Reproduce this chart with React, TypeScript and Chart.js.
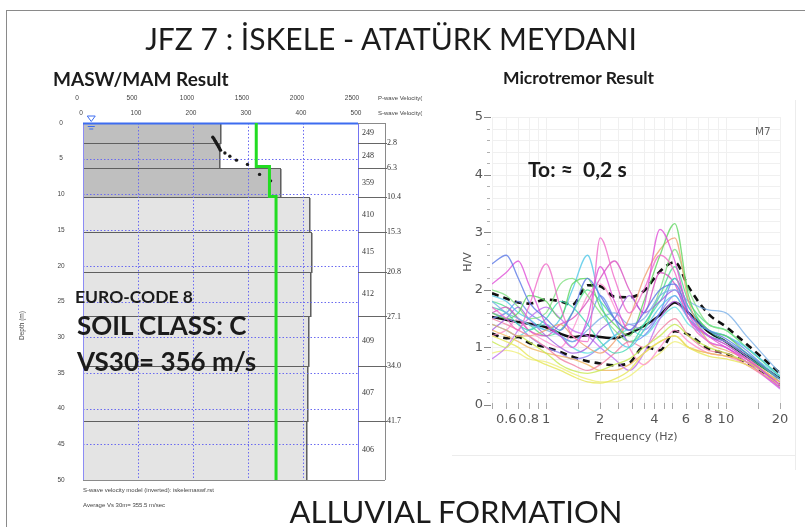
import React, { useEffect, useRef } from "react";
import { Chart, registerables } from "chart.js";

Chart.register(...registerables);

// ---- MASW / MAM layered shear-wave model ----
const LAYER_TOP = [0, 2.8, 6.3, 10.4, 15.3, 20.8, 27.1, 34.0, 41.7];
const LAYER_BOTTOM = [2.8, 6.3, 10.4, 15.3, 20.8, 27.1, 34.0, 41.7, 50];
const LAYER_VS = [249, 248, 359, 410, 415, 412, 409, 407, 406];
const BOUNDARY_LABELS = ["2.8", "6.3", "10.4", "15.3", "20.8", "27.1", "34.0", "41.7"];
const DEPTH_TICKS = [0, 5, 10, 15, 20, 25, 30, 35, 40, 45, 50];
const VS_TICKS = [0, 100, 200, 300, 400, 500];
const VP_TICKS = [0, 500, 1000, 1500, 2000, 2500];

// initial (starting) model, green step profile
const INIT_DEPTH = [0, 6.1, 6.1, 10.3, 10.3, 50];
const INIT_VS = [315, 315, 339, 339, 351, 351];

// dispersion picks plotted against pseudo-depth
const PICK_DEPTH = [2.0, 2.2, 2.4, 2.6, 2.8, 3.0, 3.2, 3.4, 3.6, 3.8, 4.2, 4.65, 5.2, 5.8, 7.2, 8.1];
const PICK_VS = [236, 238, 239.5, 241, 242.5, 244, 245.5, 247, 248.5, 250, 258, 267, 279, 299, 321, 341];

// ---- Microtremor H/V ----
const FREQ = [0.5, 0.6, 0.7, 0.8, 1.0, 1.2, 1.4, 1.7, 2.0, 2.4, 2.9, 3.5, 4.3, 5.2, 6.2, 8, 10, 13, 20];
const HV_MEAN = [1.53, 1.48, 1.44, 1.41, 1.35, 1.24, 1.18, 1.21, 1.18, 1.16, 1.24, 1.37, 1.56, 1.78, 1.6, 1.27, 1.1, 0.85, 0.46];
const HV_UPPER = [1.94, 1.85, 1.78, 1.76, 1.83, 1.8, 1.74, 2.08, 2.06, 1.88, 1.87, 1.98, 2.32, 2.48, 2.05, 1.58, 1.36, 1.06, 0.55];
const HV_LOWER = [1.24, 1.16, 1.18, 1.08, 1.0, 0.92, 0.84, 0.76, 0.72, 0.69, 0.73, 1.01, 0.95, 1.28, 1.22, 0.98, 0.89, 0.74, 0.35];

const WINDOW_COLORS = [
  "rgba(90,120,230,0.8)", "rgba(224,79,216,0.8)", "rgba(240,106,200,0.8)", "rgba(94,214,94,0.8)",
  "rgba(240,160,112,0.8)", "rgba(232,232,96,0.85)", "rgba(80,200,232,0.8)", "rgba(122,176,232,0.8)",
  "rgba(160,96,224,0.8)", "rgba(200,232,80,0.8)", "rgba(64,216,176,0.8)", "rgba(240,128,160,0.8)",
  "rgba(192,112,240,0.8)", "rgba(128,224,128,0.8)", "rgba(216,80,192,0.8)", "rgba(106,138,240,0.8)",
  "rgba(240,184,96,0.8)", "rgba(96,224,224,0.8)", "rgba(255,144,208,0.8)", "rgba(240,240,128,0.85)",
  "rgba(80,224,144,0.8)", "rgba(144,128,240,0.8)",
];
const WINDOW_HV = [
  [2.45, 2.6, 2.2, 1.8, 1.5, 1.3, 1.6, 2.2, 1.9, 1.5, 1.3, 1.6, 2.0, 2.1, 1.6, 1.3, 1.15, 0.9, 0.45],
  [2.1, 2.3, 2.5, 2.1, 1.4, 1.2, 1.0, 1.5, 2.4, 1.8, 1.3, 1.7, 3.05, 2.5, 1.6, 1.2, 1.0, 0.8, 0.35],
  [1.7, 1.5, 1.3, 1.7, 2.45, 1.7, 1.2, 1.1, 2.9, 2.2, 1.6, 2.0, 2.6, 2.3, 1.5, 1.1, 1.0, 0.75, 0.3],
  [1.6, 1.5, 1.6, 1.9, 1.8, 1.5, 2.1, 2.2, 1.7, 1.4, 1.2, 1.8, 2.6, 3.15, 1.9, 1.3, 1.2, 0.9, 0.45],
  [1.4, 1.3, 1.2, 1.2, 1.3, 1.4, 1.2, 1.0, 0.9, 1.1, 1.5, 2.2, 2.7, 2.9, 1.8, 1.1, 0.95, 0.8, 0.4],
  [1.2, 1.1, 1.0, 0.85, 0.7, 0.6, 0.5, 0.4, 0.38, 0.45, 0.6, 0.9, 1.1, 1.2, 1.0, 0.85, 0.8, 0.7, 0.35],
  [1.9, 1.8, 1.6, 1.5, 1.3, 1.5, 2.0, 2.6, 1.8, 1.2, 1.0, 1.3, 1.7, 1.9, 1.5, 1.3, 1.2, 1.0, 0.5],
  [1.8, 1.6, 1.5, 1.4, 1.3, 1.2, 1.1, 1.3, 1.5, 1.6, 1.4, 1.5, 1.9, 2.0, 1.8, 1.65, 1.6, 1.2, 0.55],
  [1.3, 1.5, 1.7, 1.5, 1.2, 1.0, 0.9, 1.0, 1.3, 1.5, 1.9, 1.6, 1.8, 2.0, 1.6, 1.2, 1.1, 0.85, 0.3],
  [1.1, 1.0, 1.2, 1.1, 0.9, 0.7, 0.6, 0.55, 0.6, 0.7, 0.8, 1.0, 1.2, 1.4, 1.2, 1.0, 0.9, 0.75, 0.4],
  [1.7, 1.6, 1.4, 1.3, 1.5, 1.8, 1.7, 1.4, 1.1, 0.9, 1.0, 1.4, 1.8, 2.2, 1.7, 1.3, 1.1, 0.85, 0.45],
  [1.5, 1.4, 1.3, 1.2, 1.0, 0.8, 0.7, 0.6, 0.7, 0.9, 1.1, 1.0, 1.3, 1.5, 1.2, 0.95, 0.9, 0.7, 0.35],
  [0.8, 1.0, 1.3, 1.5, 1.7, 1.5, 1.3, 1.2, 1.0, 0.8, 0.6, 0.9, 1.5, 1.8, 1.5, 1.1, 1.0, 0.75, 0.28],
  [2.0, 1.9, 1.7, 1.5, 1.6, 2.1, 2.2, 1.9, 1.6, 1.3, 1.1, 1.3, 2.0, 2.7, 2.0, 1.4, 1.3, 1.0, 0.5],
  [1.6, 1.7, 1.5, 1.3, 1.2, 1.4, 1.5, 1.8, 2.2, 2.5, 2.0, 1.6, 2.3, 2.1, 1.5, 1.2, 1.05, 0.8, 0.35],
  [1.5, 1.6, 1.8, 1.6, 1.4, 1.2, 1.1, 1.4, 1.9, 1.5, 1.1, 1.2, 1.6, 2.2, 1.7, 1.3, 1.2, 0.95, 0.4],
  [1.3, 1.2, 1.1, 1.0, 0.9, 0.85, 0.8, 0.7, 0.6, 0.6, 0.7, 0.9, 1.1, 1.2, 1.0, 0.9, 0.85, 0.75, 0.4],
  [1.4, 1.3, 1.2, 1.3, 1.4, 1.2, 1.0, 0.9, 1.0, 1.2, 1.3, 1.2, 1.5, 1.7, 1.4, 1.2, 1.1, 0.9, 0.5],
  [1.2, 1.3, 1.5, 1.3, 1.1, 1.0, 1.3, 1.9, 2.1, 1.7, 1.0, 0.7, 1.0, 1.3, 1.1, 0.9, 0.85, 0.7, 0.3],
  [0.9, 0.95, 0.9, 0.8, 0.75, 0.65, 0.55, 0.45, 0.4, 0.4, 0.5, 0.7, 0.9, 1.1, 1.0, 0.9, 0.85, 0.75, 0.4],
  [1.8, 1.7, 1.5, 1.4, 1.2, 1.3, 1.6, 2.0, 1.8, 1.5, 1.3, 1.4, 1.9, 2.4, 1.8, 1.4, 1.3, 1.0, 0.5],
  [1.6, 1.5, 1.4, 1.2, 1.0, 0.9, 0.8, 0.85, 1.0, 1.2, 1.4, 1.3, 1.6, 1.9, 1.5, 1.2, 1.05, 0.8, 0.35],
];
const F_TICKS = [0.5, 0.6, 0.7, 0.8, 0.9, 1, 1.5, 2, 2.5, 3, 3.5, 4, 4.5, 5, 6, 7, 8, 9, 10, 15, 20];
const F_LABELS = [0.6, 0.8, 1, 2, 4, 6, 8, 10, 20];
const HV_TICKS = [0, 1, 2, 3, 4, 5];

function hline(ctx: CanvasRenderingContext2D, x0: number, x1: number, y: number) {
  ctx.beginPath();
  ctx.moveTo(x0, y);
  ctx.lineTo(x1, y);
  ctx.stroke();
}
function vline(ctx: CanvasRenderingContext2D, x: number, y0: number, y1: number) {
  ctx.beginPath();
  ctx.moveTo(x, y0);
  ctx.lineTo(x, y1);
  ctx.stroke();
}

const profilePlugin = {
  id: "profileFrame",
  beforeDatasetsDraw(chart: any) {
    const { ctx, chartArea: a, scales } = chart;
    const x = scales.x;
    const y = scales.y;
    ctx.save();
    // layers
    LAYER_VS.forEach((vs, i) => {
      const x0 = Math.round(x.getPixelForValue(0));
      const x1 = Math.round(x.getPixelForValue(vs));
      const y0 = Math.round(y.getPixelForValue(LAYER_TOP[i]));
      const y1 = Math.round(y.getPixelForValue(LAYER_BOTTOM[i]));
      ctx.fillStyle = "#a9a9a9";
      ctx.fillRect(x1, y0 + 1, 2, y1 - y0);
      ctx.fillStyle = i < 3 ? "#bfbfbf" : "#e4e4e4";
      ctx.fillRect(x0, y0, x1 - x0, y1 - y0);
      ctx.strokeStyle = "#5f5f5f";
      ctx.lineWidth = 1;
      ctx.strokeRect(x0 + 0.5, y0 + 0.5, x1 - x0, y1 - y0);
    });
    // dotted grid
    ctx.strokeStyle = "#6a6af0";
    ctx.lineWidth = 1;
    ctx.setLineDash([1.5, 2]);
    VS_TICKS.slice(1, -1).forEach((v) => {
      const px = Math.round(x.getPixelForValue(v)) + 0.5;
      vline(ctx, px, a.top, a.bottom);
    });
    DEPTH_TICKS.slice(1, -1).forEach((d) => {
      const py = Math.round(y.getPixelForValue(d)) + 0.5;
      hline(ctx, a.left, a.right, py);
    });
    ctx.setLineDash([]);
    // frame
    const ax = a.right + 27;
    ctx.strokeStyle = "#8c8cf5";
    vline(ctx, Math.round(a.left) + 0.5, a.top, a.bottom);
    ctx.strokeStyle = "#7474f2";
    vline(ctx, Math.round(a.right) + 0.5, a.top, a.bottom);
    ctx.strokeStyle = "#8a8a8a";
    hline(ctx, a.left, ax, Math.round(a.bottom) + 0.5);
    hline(ctx, a.right, ax, Math.round(a.top) + 0.5);
    vline(ctx, Math.round(ax) + 0.5, a.top, a.bottom);
    ctx.strokeStyle = "#666";
    LAYER_BOTTOM.slice(0, -1).forEach((d) => {
      const py = Math.round(y.getPixelForValue(d)) + 0.5;
      hline(ctx, a.right, ax + 2, py);
    });
    ctx.strokeStyle = "#3d6cf0";
    ctx.lineWidth = 2;
    hline(ctx, a.left, a.right, Math.round(a.top) + 0.5);
    // water table symbol
    const wx = x.getPixelForValue(15);
    ctx.lineWidth = 1;
    ctx.strokeStyle = "#3d6cf0";
    ctx.beginPath();
    ctx.moveTo(wx - 4, a.top - 7);
    ctx.lineTo(wx + 4, a.top - 7);
    ctx.lineTo(wx, a.top - 1.5);
    ctx.closePath();
    ctx.stroke();
    hline(ctx, wx - 3.5, wx + 3.5, a.top + 3.5);
    hline(ctx, wx - 2, wx + 2, a.top + 6);
    ctx.restore();
  },
  afterDraw(chart: any) {
    const { ctx, chartArea: a, scales } = chart;
    const x = scales.x;
    const y = scales.y;
    ctx.save();
    ctx.fillStyle = "#444";
    ctx.textBaseline = "middle";
    ctx.font = "6.5px 'Liberation Sans', Arial, sans-serif";
    ctx.textAlign = "center";
    DEPTH_TICKS.forEach((d) => ctx.fillText(String(d), a.left - 22, y.getPixelForValue(d)));
    VS_TICKS.forEach((v) => ctx.fillText(String(v), x.getPixelForValue(v) - 2, a.top - 10));
    VP_TICKS.forEach((p) => ctx.fillText(String(p), x.getPixelForValue(p / 5) - 6, a.top - 25));
    ctx.textAlign = "left";
    ctx.font = "6px 'Liberation Sans', Arial, sans-serif";
    ctx.fillText("P-wave Velocity(", a.right + 20, a.top - 25);
    ctx.fillText("S-wave Velocity(", a.right + 20, a.top - 10);
    ctx.fillText("S-wave velocity model (inverted): iskelemaswf.rst", a.left, a.bottom + 10);
    ctx.fillText("Average Vs 30m= 355.5 m/sec", a.left, a.bottom + 25);
    // layer velocities and boundary depths
    ctx.fillStyle = "#333";
    ctx.font = "8px 'Liberation Serif', 'DejaVu Serif', serif";
    LAYER_VS.forEach((vs, i) => {
      ctx.fillText(String(vs), a.right + 4, y.getPixelForValue((LAYER_TOP[i] + LAYER_BOTTOM[i]) / 2));
    });
    BOUNDARY_LABELS.forEach((lab, i) => {
      ctx.fillText(lab, a.right + 29, y.getPixelForValue(LAYER_BOTTOM[i]));
    });
    // depth axis title
    ctx.fillStyle = "#444";
    ctx.font = "6.5px 'Liberation Sans', Arial, sans-serif";
    ctx.translate(22, (a.top + a.bottom) / 2 + 24);
    ctx.rotate(-Math.PI / 2);
    ctx.textAlign = "center";
    ctx.fillText("Depth (m)", 0, 0);
    ctx.restore();
  },
};

const hvPlugin = {
  id: "hvAxes",
  beforeDatasetsDraw(chart: any) {
    const { ctx, chartArea: a, scales } = chart;
    const x = scales.x;
    const y = scales.y;
    ctx.save();
    ctx.strokeStyle = "#f0f0f0";
    ctx.lineWidth = 1;
    F_TICKS.forEach((f) => vline(ctx, Math.round(x.getPixelForValue(f)) + 0.5, a.top, a.bottom));
    for (let i = 1; i <= 25; i++) {
      hline(ctx, a.left, a.right, Math.round(y.getPixelForValue(i * 0.2)) + 0.5);
    }
    ctx.restore();
  },
  afterDraw(chart: any) {
    const { ctx, chartArea: a, scales } = chart;
    const x = scales.x;
    const y = scales.y;
    ctx.save();
    ctx.lineWidth = 1;
    // y ticks
    for (let i = 0; i <= 25; i++) {
      const py = Math.round(y.getPixelForValue(i * 0.2)) + 0.5;
      if (i % 5 === 0) {
        ctx.strokeStyle = "#888";
        hline(ctx, a.left - 8, a.left - 1, py);
      } else {
        ctx.strokeStyle = "#b0b0b0";
        hline(ctx, a.left - 5, a.left - 2, py);
      }
    }
    ctx.fillStyle = "#555";
    ctx.font = "13px 'DejaVu Sans', sans-serif";
    ctx.textBaseline = "middle";
    ctx.textAlign = "right";
    HV_TICKS.forEach((v) => ctx.fillText(String(v), a.left - 9, y.getPixelForValue(v)));
    // x ticks
    ctx.strokeStyle = "#aaa";
    F_TICKS.forEach((f) => {
      const px = Math.round(x.getPixelForValue(f)) + 0.5;
      vline(ctx, px, a.bottom - 2, a.bottom + 4);
    });
    ctx.textAlign = "center";
    F_LABELS.forEach((f) => ctx.fillText(String(f), x.getPixelForValue(f), a.bottom + 15));
    ctx.font = "11px 'DejaVu Sans', sans-serif";
    ctx.fillText("Frequency (Hz)", (a.left + a.right) / 2, a.bottom + 32);
    ctx.translate(a.left - 24, a.top + 145);
    ctx.rotate(-Math.PI / 2);
    ctx.fillText("H/V", 0, 0);
    ctx.restore();
  },
};

const W = 805;
const H = 527;

const abs = (extra: React.CSSProperties): React.CSSProperties => ({
  position: "absolute",
  whiteSpace: "pre",
  lineHeight: 1,
  fontFamily: "Lato, 'Open Sans', sans-serif",
  color: "#1b1b1b",
  ...extra,
});

export default function App() {
  const leftRef = useRef<HTMLCanvasElement | null>(null);
  const rightRef = useRef<HTMLCanvasElement | null>(null);

  useEffect(() => {
    if (!leftRef.current || !rightRef.current) return;
    const left = new Chart(leftRef.current, {
      type: "scatter",
      data: {
        datasets: [
          {
            data: INIT_VS.map((v, i) => ({ x: v, y: INIT_DEPTH[i] })),
            showLine: true,
            borderColor: "#22dc22",
            borderWidth: 3,
            pointRadius: 0,
          },
          {
            data: PICK_VS.map((v, i) => ({ x: v, y: PICK_DEPTH[i] })),
            pointRadius: 1.7,
            pointBorderWidth: 0,
            backgroundColor: "#1a1a1a",
          },
        ],
      },
      options: {
        animation: false,
        responsive: false,
        events: [],
        layout: { padding: { left: 83, top: 123, right: W - 358, bottom: H - 480 } },
        plugins: { legend: { display: false }, tooltip: { enabled: false } },
        scales: {
          x: { type: "linear", min: 0, max: 500, display: false },
          y: { type: "linear", min: 0, max: 50, reverse: true, display: false },
        },
      },
      plugins: [profilePlugin],
    });

    const right = new Chart(rightRef.current, {
      type: "scatter",
      data: {
        datasets: [
          ...WINDOW_HV.map((vals, i) => ({
            data: FREQ.map((f, j) => ({ x: f, y: vals[j] })),
            showLine: true,
            borderColor: WINDOW_COLORS[i],
            borderWidth: 1.3,
            pointRadius: 0,
            cubicInterpolationMode: "monotone" as const,
          })),
          {
            data: FREQ.map((f, j) => ({ x: f, y: HV_UPPER[j] })),
            showLine: true,
            borderColor: "#111",
            borderWidth: 2.6,
            borderDash: [7, 5],
            pointRadius: 0,
            cubicInterpolationMode: "monotone" as const,
          },
          {
            data: FREQ.map((f, j) => ({ x: f, y: HV_LOWER[j] })),
            showLine: true,
            borderColor: "#111",
            borderWidth: 2.6,
            borderDash: [7, 5],
            pointRadius: 0,
            cubicInterpolationMode: "monotone" as const,
          },
          {
            data: FREQ.map((f, j) => ({ x: f, y: HV_MEAN[j] })),
            showLine: true,
            borderColor: "#111",
            borderWidth: 2.4,
            pointRadius: 0,
            cubicInterpolationMode: "monotone" as const,
          },
        ],
      },
      options: {
        animation: false,
        responsive: false,
        events: [],
        layout: { padding: { left: 492, top: 117, right: W - 780, bottom: H - 405 } },
        plugins: { legend: { display: false }, tooltip: { enabled: false } },
        scales: {
          x: { type: "logarithmic", min: 0.5, max: 20, display: false },
          y: { type: "linear", min: 0, max: 5, display: false },
        },
      },
      plugins: [hvPlugin],
    });

    return () => {
      left.destroy();
      right.destroy();
    };
  }, []);

  return (
    <div
      style={{
        position: "fixed",
        left: 0,
        top: 0,
        width: W,
        height: H,
        background: "#fff",
        overflow: "hidden",
      }}
    >
      <div style={{ position: "absolute", left: 6, top: 10, width: W - 6, height: 1, background: "#8a8a8a" }} />
      <div style={{ position: "absolute", left: 6, top: 10, width: 1, height: H - 10, background: "#8a8a8a" }} />
      <div style={{ position: "absolute", left: 795, top: 100, width: 1, height: 370, background: "#ececec" }} />
      <div style={{ position: "absolute", left: 452, top: 455, width: 343, height: 1, background: "#ececec" }} />

      <canvas ref={leftRef} width={W} height={H} style={{ position: "absolute", left: 0, top: 0 }} />
      <canvas ref={rightRef} width={W} height={H} style={{ position: "absolute", left: 0, top: 0 }} />

      <div style={abs({ left: 391, top: 38, fontSize: 30, transform: "translate(-50%,-50%)" })}>
        JFZ 7 : İSKELE - ATATÜRK MEYDANI
      </div>
      <div style={abs({ left: 53, top: 78, fontSize: 19, fontWeight: 700, transform: "translateY(-50%)" })}>
        MASW/MAM Result
      </div>
      <div style={abs({ left: 503, top: 78, fontSize: 17.5, fontWeight: 700, transform: "translateY(-50%)" })}>
        Microtremor Result
      </div>
      <div style={abs({ left: 75, top: 297, fontSize: 17.5, fontWeight: 700, transform: "translateY(-50%)" })}>
        EURO-CODE 8
      </div>
      <div style={abs({ left: 77, top: 325, fontSize: 26, fontWeight: 700, transform: "translateY(-50%)" })}>
        SOIL CLASS: C
      </div>
      <div style={abs({ left: 77, top: 361, fontSize: 26, fontWeight: 700, transform: "translateY(-50%)" })}>
        VS30= 356 m/s
      </div>
      <div style={abs({ left: 528, top: 168, fontSize: 21, fontWeight: 700, transform: "translateY(-50%)" })}>
        {"To: ≈  0,2 s"}
      </div>
      <div
        style={abs({
          left: 755,
          top: 131,
          fontSize: 10.5,
          color: "#666",
          fontFamily: "'DejaVu Sans', sans-serif",
          transform: "translateY(-50%)",
        })}
      >
        M7
      </div>
      <div style={abs({ left: 456, top: 511, fontSize: 31, transform: "translate(-50%,-50%)" })}>
        ALLUVIAL FORMATION
      </div>
    </div>
  );
}
